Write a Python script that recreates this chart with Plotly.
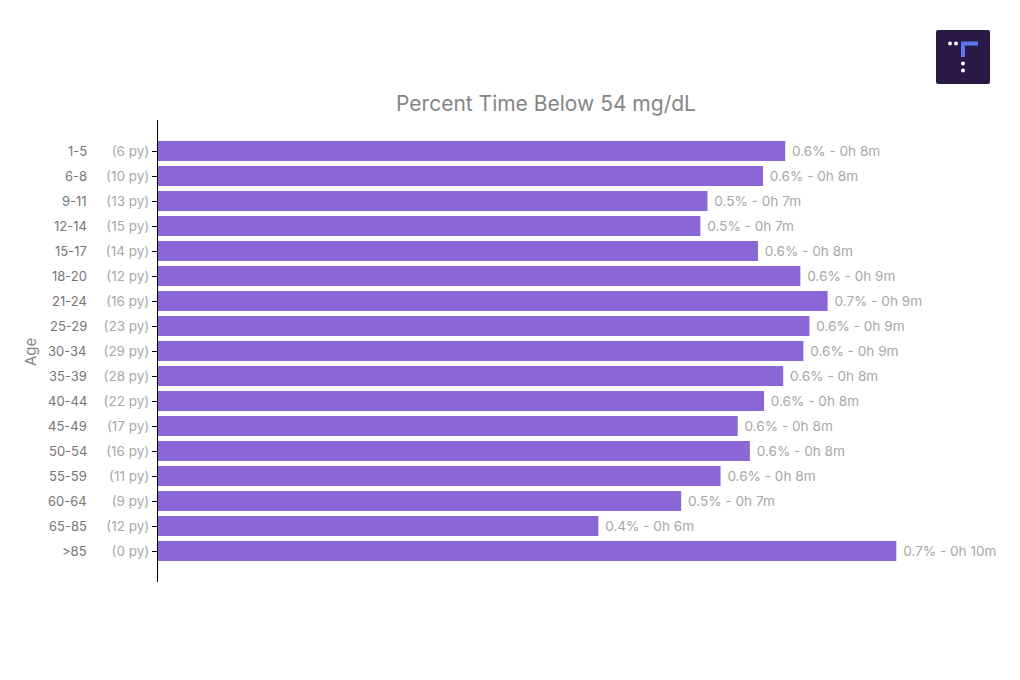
import plotly.graph_objects as go

ages = ["1-5", "6-8", "9-11", "12-14", "15-17", "18-20", "21-24", "25-29", "30-34",
        "35-39", "40-44", "45-49", "50-54", "55-59", "60-64", "65-85", ">85"]
person_years = [6, 10, 13, 15, 14, 12, 16, 23, 29, 28, 22, 17, 16, 11, 9, 12, 0]
pct_below_54 = [0.621, 0.599, 0.544, 0.537, 0.594, 0.636, 0.663, 0.645, 0.639,
                0.619, 0.600, 0.574, 0.586, 0.557, 0.518, 0.436, 0.731]
bar_labels = ["0.6% - 0h 8m", "0.6% - 0h 8m", "0.5% - 0h 7m", "0.5% - 0h 7m",
              "0.6% - 0h 8m", "0.6% - 0h 9m", "0.7% - 0h 9m", "0.6% - 0h 9m",
              "0.6% - 0h 9m", "0.6% - 0h 8m", "0.6% - 0h 8m", "0.6% - 0h 8m",
              "0.6% - 0h 8m", "0.6% - 0h 8m", "0.5% - 0h 7m", "0.4% - 0h 6m",
              "0.7% - 0h 10m"]

FONT = "Inter"
idx = list(range(len(ages)))

# figure is placed at (8, 8) in the page by the default body margin
W, H = 1012, 672
L, R, T, B = 150, 54, 112, 98
PW, PH = W - L - R, H - T - B


def px(xp):
    return (xp - 8 - L) / PW


def py(yp):
    return (H - B - (yp - 8)) / PH


fig = go.Figure()
fig.add_trace(go.Bar(
    x=pct_below_54, y=idx, orientation="h",
    marker=dict(color="#8a66d6", line=dict(width=0)),
    text=["\u00a0" + t for t in bar_labels], textposition="outside", cliponaxis=False,
    textfont=dict(family=FONT, size=13.6, color="#a8a8a8"),
    hoverinfo="skip",
))

for i, a in enumerate(ages):
    fig.add_annotation(x=0, xref="paper", y=i, yref="y", text=a, showarrow=False,
                       xanchor="right", xshift=-69,
                       font=dict(family=FONT, size=13, color="#767676"))

fig.add_annotation(x=px(30), xref="paper", y=py(352), yref="paper", text="Age",
                   textangle=-90, showarrow=False, xanchor="center", yanchor="middle",
                   font=dict(family=FONT, size=15, color="#858585"))

fig.update_layout(
    width=W, height=H,
    margin=dict(l=L, r=R, t=T, b=B),
    paper_bgcolor="white", plot_bgcolor="white",
    bargap=0.2, showlegend=False,
    title=dict(text="Percent Time Below 54 mg/dL", x=px(546), xref="paper",
               xanchor="center", y=1 - (104 - 8) / H, yanchor="middle",
               font=dict(family=FONT, size=21, color="#858585")),
    xaxis=dict(range=[0, 0.8], visible=False),
    yaxis=dict(
        tickmode="array", tickvals=idx,
        ticktext=[f"({p} py)" for p in person_years],
        range=[16 + 1.24, -1.24],
        showline=True, linecolor="black", linewidth=1,
        ticks="outside", ticklen=5, tickwidth=1, tickcolor="black",
        tickfont=dict(family=FONT, size=13.5, color="#a8a8a8"),
        showgrid=False, zeroline=False,
        automargin=False,
    ),
)

# Logo in top-right corner (rounded square)
x0, x1, y0, y1, r = 936, 990, 30, 84, 2
logo_path = (f"M {px(x0 + r)},{py(y0)} L {px(x1 - r)},{py(y0)} "
             f"Q {px(x1)},{py(y0)} {px(x1)},{py(y0 + r)} "
             f"L {px(x1)},{py(y1 - r)} Q {px(x1)},{py(y1)} {px(x1 - r)},{py(y1)} "
             f"L {px(x0 + r)},{py(y1)} Q {px(x0)},{py(y1)} {px(x0)},{py(y1 - r)} "
             f"L {px(x0)},{py(y0 + r)} Q {px(x0)},{py(y0)} {px(x0 + r)},{py(y0)} Z")
fig.add_shape(type="path", xref="paper", yref="paper", path=logo_path,
              fillcolor="#2a1a48", line=dict(width=0), layer="above")
fig.add_shape(type="path", xref="paper", yref="paper",
              path=f"M {px(978)},{py(43.5)} L {px(963)},{py(43.5)} L {px(963)},{py(57)}",
              line=dict(color="#5b78f2", width=4), layer="above")
for (cx, cy) in [(950, 43.5), (956, 43.5), (963, 63.5), (963, 70.5)]:
    fig.add_shape(type="circle", xref="paper", yref="paper",
                  x0=px(cx - 2), x1=px(cx + 2), y0=py(cy + 2), y1=py(cy - 2),
                  fillcolor="white", line=dict(width=0), layer="above")

fig.write_html("out.html")
